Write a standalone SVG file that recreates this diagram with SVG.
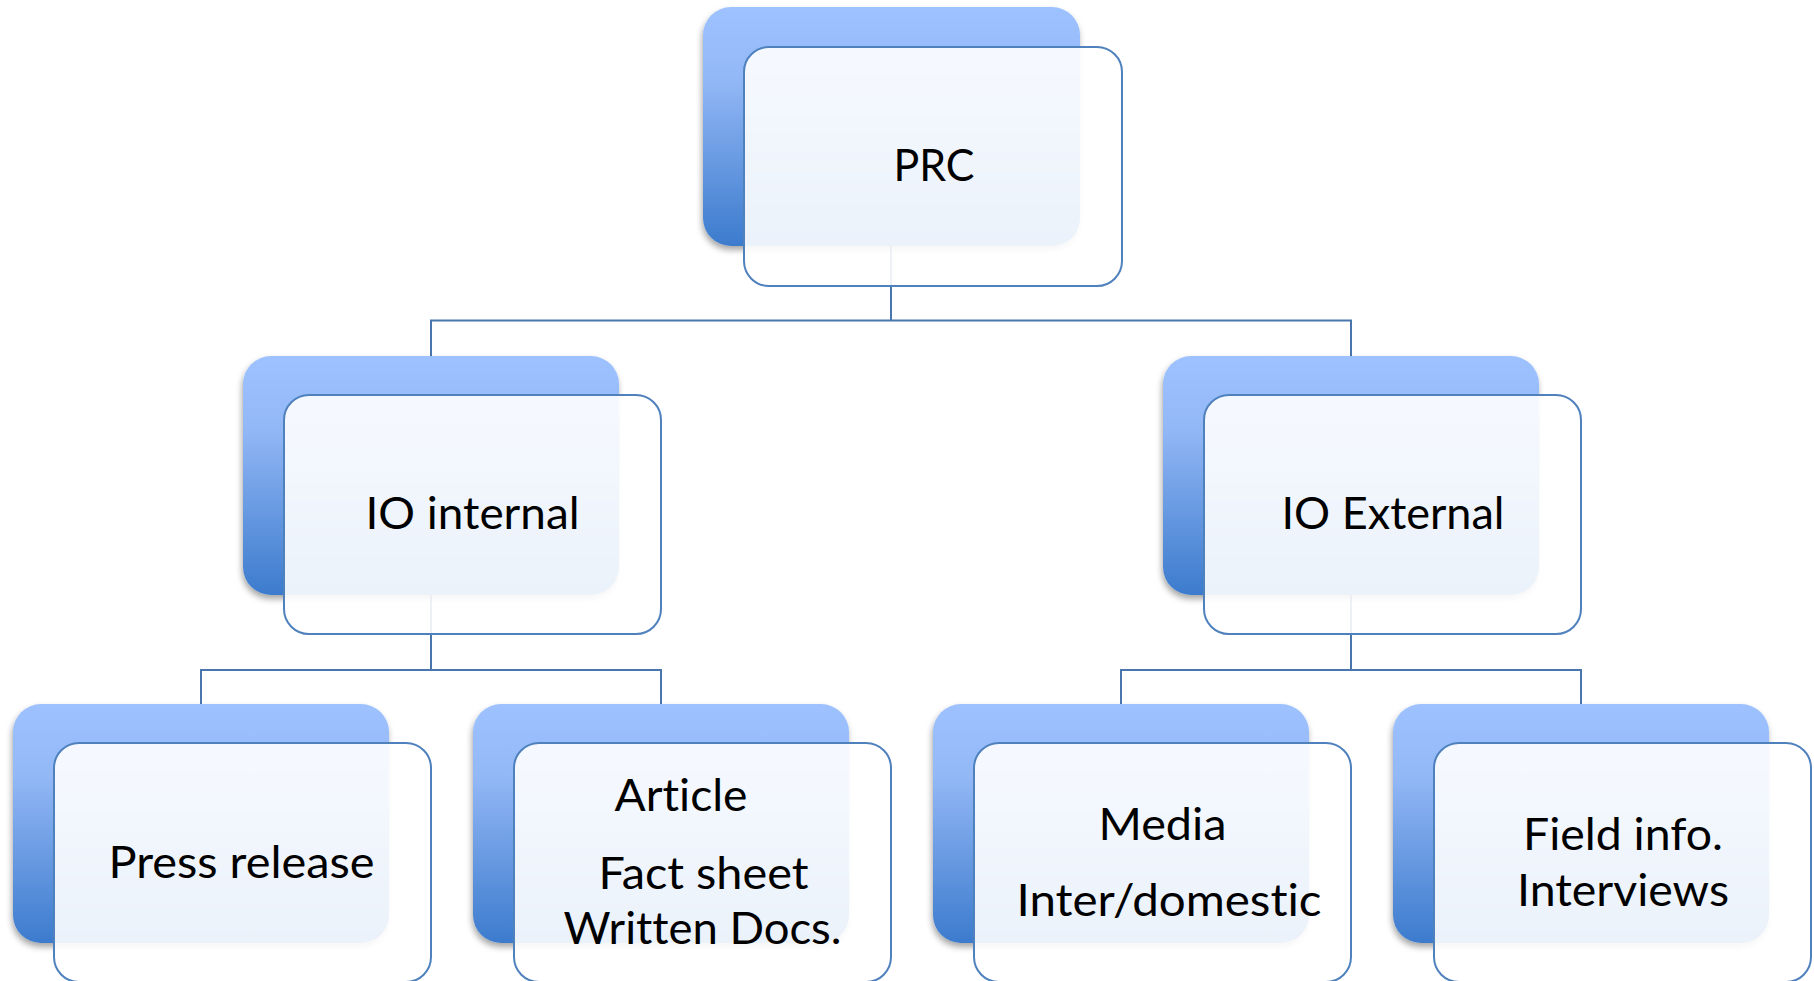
<svg xmlns="http://www.w3.org/2000/svg" width="1814" height="981" viewBox="0 0 1814 981">
  <defs>
    <linearGradient id="blueGrad" x1="0" y1="0" x2="0" y2="1">
      <stop offset="0" stop-color="#9EC2FF"/>
      <stop offset="0.3" stop-color="#93B8F6"/>
      <stop offset="1" stop-color="#3C7BCD"/>
    </linearGradient>
    <filter id="shadow" x="-10%" y="-10%" width="120%" height="125%">
      <feDropShadow dx="-1" dy="4" stdDeviation="3" flood-color="#000" flood-opacity="0.35"/>
    </filter>
    <style>
      .back { fill: url(#blueGrad); filter: url(#shadow); }
      .front { fill: #FFFFFF; fill-opacity: 0.9; stroke: #4F81BD; stroke-width: 2; }
      .conn { fill: none; stroke: #4A76AE; stroke-width: 2; }
      .lbl { font-family: Lato, "Open Sans", "Liberation Sans", sans-serif; font-size: 45px; fill: #000; text-anchor: middle; font-variant-ligatures: none; font-feature-settings: "liga" 0, "dlig" 0; }
    </style>
  </defs>
  <rect width="1814" height="981" fill="#FFFFFF"/>

  <g id="connectors">
    <path class="conn" d="M891 246 V320.5 M430 320.5 H1352 M431 320.5 V356 M1351 320.5 V356"/>
    <path class="conn" d="M431 595 V670 M200 670 H662 M201 670 V704 M661 670 V704"/>
    <path class="conn" d="M1351 595 V670 M1120 670 H1582 M1121 670 V704 M1581 670 V704"/>
  </g>

  <g id="node-prc">
    <rect class="back" x="703" y="7" width="377" height="239" rx="28"/>
    <rect class="front" x="744" y="47" width="378" height="239" rx="25"/>
    <text class="lbl" x="934" y="181" textLength="81" lengthAdjust="spacingAndGlyphs">PRC</text>
  </g>

  <g id="node-io-internal">
    <rect class="back" x="243" y="356" width="376" height="239" rx="28"/>
    <rect class="front" x="284" y="395" width="377" height="239" rx="25"/>
    <text class="lbl" x="472.5" y="529" textLength="214" lengthAdjust="spacingAndGlyphs">IO internal</text>
  </g>

  <g id="node-io-external">
    <rect class="back" x="1163" y="356" width="376" height="239" rx="28"/>
    <rect class="front" x="1204" y="395" width="377" height="239" rx="25"/>
    <text class="lbl" x="1393" y="529" textLength="223" lengthAdjust="spacingAndGlyphs">IO External</text>
  </g>

  <g id="node-press-release">
    <rect class="back" x="13" y="704" width="376" height="239" rx="28"/>
    <rect class="front" x="54" y="743" width="377" height="239" rx="25"/>
    <text class="lbl" x="241.5" y="878" textLength="266" lengthAdjust="spacingAndGlyphs">Press release</text>
  </g>

  <g id="node-article">
    <rect class="back" x="473" y="704" width="376" height="239" rx="28"/>
    <rect class="front" x="514" y="743" width="377" height="239" rx="25"/>
    <text class="lbl" x="681" y="811" textLength="133" lengthAdjust="spacingAndGlyphs">Article</text>
    <text class="lbl" x="703.5" y="889" textLength="210" lengthAdjust="spacingAndGlyphs">Fact sheet</text>
    <text class="lbl" x="702.5" y="944" textLength="278" lengthAdjust="spacingAndGlyphs">Written Docs.</text>
  </g>

  <g id="node-media">
    <rect class="back" x="933" y="704" width="376" height="239" rx="28"/>
    <rect class="front" x="974" y="743" width="377" height="239" rx="25"/>
    <text class="lbl" x="1162.5" y="840" textLength="128" lengthAdjust="spacingAndGlyphs">Media</text>
    <text class="lbl" x="1169" y="916" textLength="305" lengthAdjust="spacingAndGlyphs">Inter/domestic</text>
  </g>

  <g id="node-field-info">
    <rect class="back" x="1393" y="704" width="376" height="239" rx="28"/>
    <rect class="front" x="1434" y="743" width="377" height="239" rx="25"/>
    <text class="lbl" x="1623" y="850" textLength="200" lengthAdjust="spacingAndGlyphs">Field info.</text>
    <text class="lbl" x="1623" y="906" textLength="212" lengthAdjust="spacingAndGlyphs">Interviews</text>
  </g>
</svg>
